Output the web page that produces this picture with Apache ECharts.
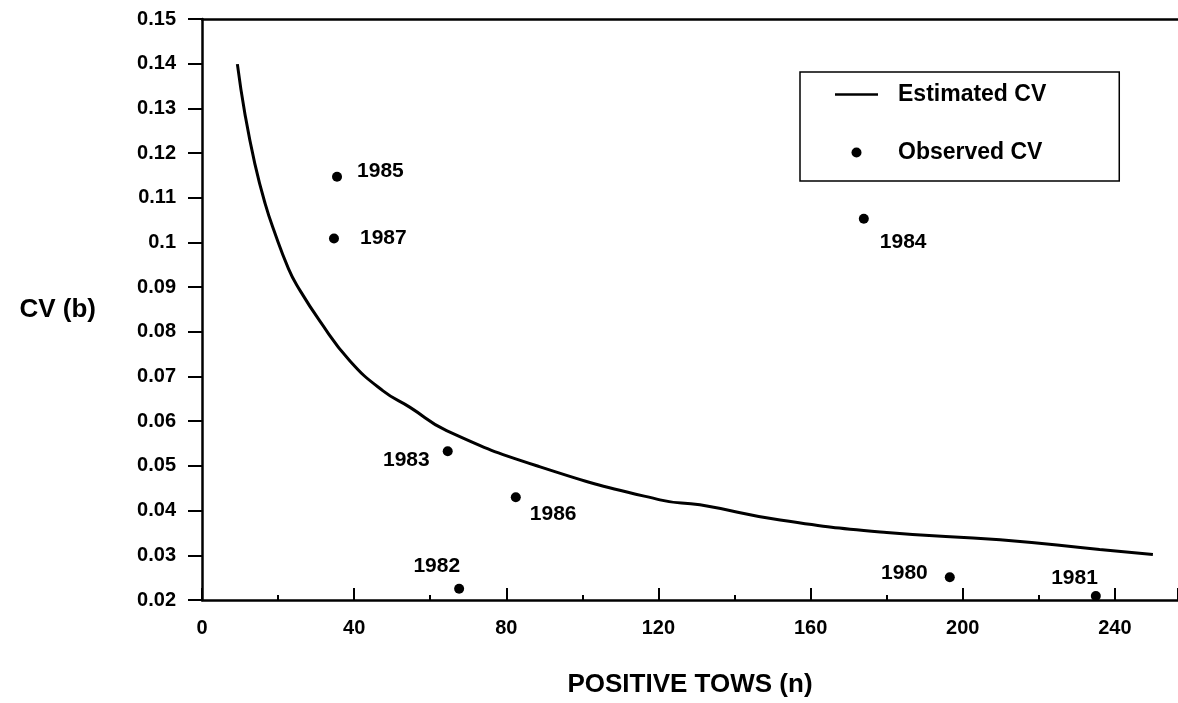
<!DOCTYPE html>
<html>
<head>
<meta charset="utf-8">
<script src="https://cdn.jsdelivr.net/npm/echarts@6/dist/echarts.min.js"></script>
<style>
html,body{margin:0;padding:0;background:#fff;}
#chart{width:1178px;height:703px;}
</style>
</head>
<body>
<div id="chart"></div>
<script>
// Estimated CV curve: positive tows (n) and CV(b)
const estN  = [9.3, 11.3, 13.9, 16.6, 19.2, 22.7, 24.9, 31.0, 38.9, 47.6, 54.7, 64.3, 88.9, 120.4, 130.9, 152, 180, 209.8, 236, 250];
const estCV = [0.1399, 0.1287, 0.1176, 0.1087, 0.1020, 0.0942, 0.0905, 0.0824, 0.0735, 0.0668, 0.0631, 0.0579, 0.0498, 0.0424, 0.0413, 0.0379, 0.0351, 0.0335, 0.0313, 0.0302];

// Observed CV by year
const obsYears = ['1985', '1987', '1984', '1983', '1986', '1982', '1980', '1981'];
const obsN     = [35.5, 34.7, 174.0, 64.6, 82.5, 67.6, 196.6, 235.0];
const obsCV    = [0.1147, 0.1009, 0.1053, 0.0533, 0.0430, 0.0225, 0.0251, 0.0209];

// Axis ticks
const yTicks = [0.02, 0.03, 0.04, 0.05, 0.06, 0.07, 0.08, 0.09, 0.10, 0.11, 0.12, 0.13, 0.14, 0.15];

// label placement per year (style only)
const labelPlace = {
  '1985': {align: 'left',  offset: [20, -6]},
  '1987': {align: 'left',  offset: [26, 0]},
  '1984': {align: 'left',  offset: [16, 23]},
  '1983': {align: 'right', offset: [-18, 9]},
  '1986': {align: 'left',  offset: [14, 17]},
  '1982': {align: 'right', offset: [1, -23]},
  '1980': {align: 'right', offset: [-22, -4]},
  '1981': {align: 'right', offset: [2, -18]}
};

const FONT = "'Liberation Sans', Arial, Helvetica, sans-serif";
const chart = echarts.init(document.getElementById('chart'), null, {renderer: 'canvas'});

const lineData = estN.map((n, i) => [n, estCV[i]]);
const scatterData = obsYears.map((y, i) => ({
  name: y,
  value: [obsN[i], obsCV[i]],
  label: {
    show: true,
    position: 'inside',
    formatter: y,
    align: labelPlace[y].align,
    verticalAlign: 'middle',
    offset: labelPlace[y].offset
  }
}));

chart.setOption({
  animation: false,
  backgroundColor: '#fff',
  textStyle: {fontFamily: FONT, color: '#000'},
  grid: {left: 202, top: 19, right: 0, bottom: 99, containLabel: false},
  legend: {
    show: true,
    orient: 'vertical',
    left: 800,
    top: 72,
    padding: [11, 73, 17, 35],
    itemGap: 35,
    itemWidth: 43,
    itemHeight: 10,
    borderColor: '#000',
    borderWidth: 1.5,
    backgroundColor: '#fff',
    textStyle: {fontFamily: FONT, fontSize: 23, fontWeight: 'bold', color: '#000', padding: [0, 0, 0, 15]},
    data: [
      {name: 'Estimated CV', icon: 'path://M0,0 L43,0 L43,2.5 L0,2.5 Z', itemStyle: {color: '#000', borderWidth: 0}},
      {name: 'Observed CV', icon: 'circle', itemStyle: {color: '#000', borderWidth: 0, opacity: 1}}
    ]
  },
  xAxis: [{
    type: 'value',
    min: 0,
    max: 256.6,
    interval: 40,
    position: 'bottom',
    name: 'POSITIVE TOWS (n)',
    nameLocation: 'middle',
    nameGap: 72,
    nameTextStyle: {fontFamily: FONT, fontSize: 26, fontWeight: 'bold', color: '#000'},
    axisLine: {show: true, lineStyle: {color: '#000', width: 2.5}},
    axisTick: {show: true, inside: true, length: 12, lineStyle: {color: '#000', width: 2}},
    minorTick: {show: true, splitNumber: 2, length: 5, lineStyle: {color: '#000', width: 2}},
    axisLabel: {show: true, margin: 18, fontFamily: FONT, fontSize: 20, fontWeight: 'bold', color: '#000',
      showMaxLabel: false},
    splitLine: {show: false}
  }, {
    type: 'value',
    min: 0,
    max: 256.6,
    position: 'top',
    axisLine: {show: true, onZero: false, lineStyle: {color: '#000', width: 2.5}},
    axisTick: {show: false},
    axisLabel: {show: false},
    splitLine: {show: false}
  }],
  yAxis: {
    type: 'value',
    min: 0.02,
    max: 0.15,
    interval: 0.01,
    name: 'CV (b)',
    nameLocation: 'middle',
    nameRotate: 0,
    nameGap: 106,
    nameTextStyle: {fontFamily: FONT, fontSize: 26, fontWeight: 'bold', color: '#000', align: 'right'},
    axisLine: {show: true, lineStyle: {color: '#000', width: 2.5}},
    axisTick: {show: true, inside: false, length: 14, lineStyle: {color: '#000', width: 2}},
    axisLabel: {
      show: true, margin: 26, fontFamily: FONT, fontSize: 20, fontWeight: 'bold', color: '#000',
      customValues: yTicks,
      formatter: v => (Math.round(v * 100) / 100).toString()
    },
    splitLine: {show: false}
  },
  series: [{
    name: 'Estimated CV',
    type: 'line',
    data: lineData,
    smooth: 0.5,
    symbol: 'none',
    lineStyle: {color: '#000', width: 3},
    itemStyle: {color: '#000'},
    z: 2
  }, {
    name: 'Observed CV',
    type: 'scatter',
    data: scatterData,
    symbol: 'circle',
    symbolSize: 10,
    itemStyle: {color: '#000', opacity: 1},
    label: {fontFamily: FONT, fontSize: 21, fontWeight: 'bold', color: '#000'},
    z: 3
  }]
});
</script>
</body>
</html>
